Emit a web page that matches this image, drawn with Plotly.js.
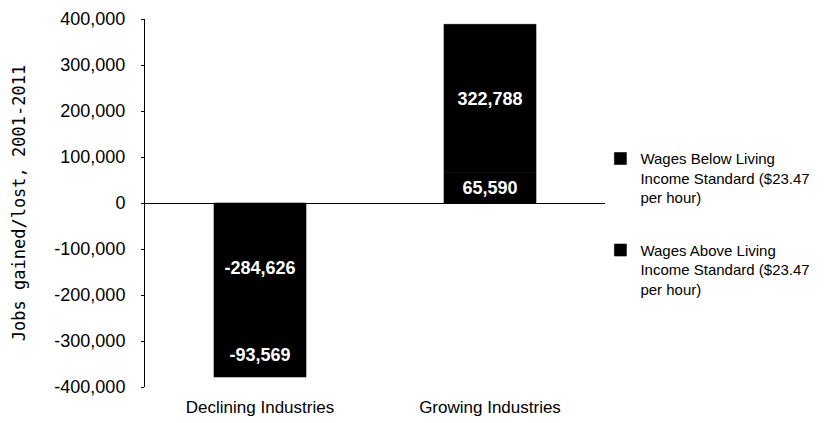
<!DOCTYPE html>
<html>
<head>
<meta charset="utf-8">
<script src="https://cdn.plot.ly/plotly-3.0.1.min.js"></script>
<style>html,body{margin:0;padding:0;background:#fff;}#chart{width:830px;height:423px;}</style>
</head>
<body>
<div id="chart"></div>
<script>
const categories = ["Declining Industries", "Growing Industries"];
const seriesNames = [
  "Wages Above Living<br>Income Standard ($23.47<br>per hour)",
  "Wages Below Living<br>Income Standard ($23.47<br>per hour)"
];
const wagesAbove = [-284626, 65590];
const wagesBelow = [-93569, 322788];
const yTickVals = [400000, 300000, 200000, 100000, 0, -100000, -200000, -300000, -400000];
const yTickText = ["400,000", "300,000", "200,000", "100,000", "0", "-100,000", "-200,000", "-300,000", "-400,000"];
const yTitle = "Jobs gained/lost, 2001-2011";

const fmt = v => v.toLocaleString('en-US');
const font = "Liberation Sans, Arial, sans-serif";

function barTrace(name, vals, group, rank) {
  return {
    type: 'bar',
    x: categories,
    y: vals,
    name: name,
    legendgroup: group,
    legendrank: rank,
    marker: {color: '#000000', line: {width: 0.6, color: '#000000'}},
    width: 0.4,
    text: vals.map(fmt),
    textposition: 'inside',
    insidetextanchor: 'middle',
    textangle: 0,
    constraintext: 'none',
    insidetextfont: {color: '#ffffff', size: 18, family: font, weight: 'bold'},
    hoverinfo: 'skip'
  };
}

const data = [
  barTrace(seriesNames[0], wagesAbove, 'above', 2),
  barTrace(seriesNames[1], wagesBelow, 'below', 1)
];

const layout = {
  width: 830, height: 423,
  margin: {l: 145, r: 225, t: 19, b: 36},
  paper_bgcolor: '#ffffff', plot_bgcolor: '#ffffff',
  barmode: 'relative',
  font: {family: font, color: '#000'},
  showlegend: true,
  legend: {
    x: 0.99, xanchor: 'left', y: 0.665, yanchor: 'top',
    traceorder: 'grouped', tracegroupgap: 30,
    valign: 'top',
    bgcolor: 'rgba(0,0,0,0)',
    font: {family: font, size: 15, color: '#000'}
  },
  xaxis: {
    type: 'category',
    range: [-0.5, 1.5],
    showline: false, showgrid: false, zeroline: false,
    ticks: '',
    ticklabelstandoff: 8,
    tickfont: {family: font, size: 17, color: '#000'},
    fixedrange: true
  },
  yaxis: {
    range: [-400000, 400000],
    tickvals: yTickVals, ticktext: yTickText,
    showline: true, linecolor: '#000', linewidth: 1,
    ticks: 'outside', ticklen: 3, tickcolor: '#000',
    showgrid: false,
    zeroline: true, zerolinecolor: '#000', zerolinewidth: 1,
    ticklabelstandoff: 12,
    tickfont: {family: font, size: 18, color: '#000'},
    title: {text: yTitle, font: {family: "DejaVu Sans Mono, monospace", size: 17, color: '#000'}, standoff: 24},
    automargin: false,
    fixedrange: true
  }
};

Plotly.newPlot('chart', data, layout, {displayModeBar: false, staticPlot: true});
</script>
</body>
</html>
